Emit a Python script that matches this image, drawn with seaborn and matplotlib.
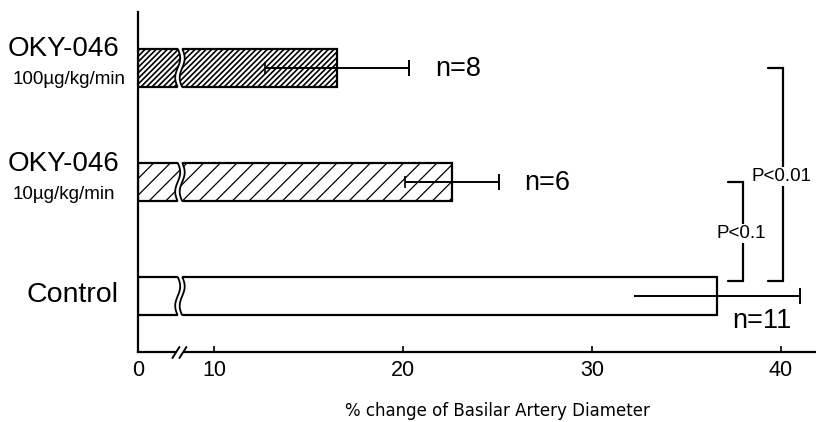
import numpy as np
import matplotlib
matplotlib.use("Agg")
import matplotlib.pyplot as plt
import seaborn as sns
import pandas as pd
from matplotlib.patches import Polygon
from matplotlib.lines import Line2D
from matplotlib.transforms import IdentityTransform, blended_transform_factory

# ---------------- data ----------------
groups = ["OKY-046 100", "OKY-046 10", "Control"]
main_labels = ["OKY-046", "OKY-046", "Control"]
dose_labels = ["100µg/kg/min", "10µg/kg/min", ""]
means = [16.5, 22.6, 36.6]
sds = [3.8, 2.5, 4.4]
n_labels = ["n=8", "n=6", "n=11"]
hatches = ["//////", "//", ""]
hatch_lw = [1.2, 0.9, 0.9]
left_caps = [True, True, False]
xticks = [0, 10, 20, 30, 40]
sig_labels = ["P<0.01", "P<0.1"]
sig_from = [0, 1]          # compared group index -> Control
xlabel = "% change of Basilar Artery Diameter"

# ---------------- style ----------------
sns.set_theme(style="white")
plt.rcParams['font.family'] = ['Liberation Sans', 'DejaVu Sans']
plt.rcParams['hatch.linewidth'] = 0.9
plt.rcParams['text.color'] = 'black'
plt.rcParams['axes.edgecolor'] = 'black'
plt.rcParams['xtick.color'] = 'black'
plt.rcParams['axes.labelcolor'] = 'black'

W, H = 816, 422
fig = plt.figure(figsize=(W / 100, H / 100), dpi=100)
ax = fig.add_axes([138 / W, 70 / H, 678 / W, 340 / H])

df = pd.DataFrame({"group": groups, "value": means})
BAR_H = 0.34
sns.barplot(data=df, x="value", y="group", orient="h", color="white",
            edgecolor="black", linewidth=1.6, width=BAR_H, errorbar=None,
            ax=ax)
for p, h, hl in zip(ax.patches, hatches, hatch_lw):
    p.set_facecolor("white")
    p.set_edgecolor("black")
    p.set_hatch(h)
    if hasattr(p, "set_hatch_linewidth"):
        p.set_hatch_linewidth(hl)

# broken axis: compress 0..10
K = 0.402
def fwd(v):
    v = np.asarray(v, float)
    return np.where(v < 10, 10 - (10 - v) * K, v)
def inv(p):
    p = np.asarray(p, float)
    return np.where(p < 10, 10 - (10 - p) / K, p)
ax.set_xscale('function', functions=(fwd, inv))
ax.set_xlim(0, 41.85)
ax.set_ylim(2.49, -0.49)

ax.set_xticks(xticks)
ax.set_xticklabels([str(t) for t in xticks])
ax.tick_params(axis='x', direction='in', length=4.5, width=1.2, pad=6,
               labelsize=15.5, bottom=True)
ax.set_yticks([])
ax.set_ylabel("")
ax.set_xlabel(xlabel, fontsize=12, family='DejaVu Sans')
ax.xaxis.set_label_coords(0.53, -0.174)
ax.xaxis.label.set_va('center')
for s in ['top', 'right']:
    ax.spines[s].set_visible(False)
for s in ['left', 'bottom']:
    ax.spines[s].set_linewidth(1.6)
    ax.spines[s].set_color('black')

# error bars
for i, (m, s) in enumerate(zip(means, sds)):
    ax.hlines(i, m - s, m + s, color='black', lw=1.4, zorder=5)
    ax.plot([m + s], [i], marker='|', ms=11, mew=1.4, color='black', zorder=5)
    if left_caps[i]:
        ax.plot([m - s], [i], marker='|', ms=8, mew=1.2, color='black', zorder=5)

# n labels
n_offsets = [(19, -1), (18, -1), (11, -18)]
n_anchor = [means[0] + sds[0], means[1] + sds[1], means[2]]
for i, (lab, off, xa) in enumerate(zip(n_labels, n_offsets, n_anchor)):
    ax.annotate(lab, (xa, i), xytext=off, textcoords='offset points',
                ha='left', va='center', fontsize=19.5)

# group labels
tr = blended_transform_factory(fig.transFigure, ax.transData)
for i, (ml, dl) in enumerate(zip(main_labels, dose_labels)):
    if dl:
        ax.text(8 / W, i - 0.10, ml, transform=tr, ha='left', va='baseline',
                fontsize=20)
        ax.text(13 / W, i + 0.145, dl, transform=tr, ha='left',
                va='baseline', fontsize=13.6)
    else:
        ax.text(27 / W, i + 0.05, ml, transform=tr, ha='left',
                va='baseline', fontsize=20.5)

# significance brackets
ctrl = len(groups) - 1
br_x = [40.09, 37.97]
for lab, g, bx in zip(sig_labels, sig_from, br_x):
    yb = ctrl - 0.13
    arm = bx - 0.8
    ax.plot([arm, bx, bx, arm], [g, g, yb, yb], color='black', lw=1.6,
            solid_joinstyle='miter', zorder=4)
    ax.text(bx - 0.05, (g + yb) / 2 + 0.02, lab, ha='center', va='center',
            fontsize=13.5, zorder=6,
            bbox=dict(boxstyle='square,pad=0.05', fc='white', ec='none'))

# ---- break decorations (computed in display space) ----
fig.canvas.draw()
BREAK_V = 5.52
ident = IdentityTransform()
xc = ax.transData.transform((BREAK_V, 0))[0]
gap, amp = 4.5, 2.5
for i in range(len(groups)):
    _, yt = ax.transData.transform((BREAK_V, i - BAR_H / 2))
    _, yb = ax.transData.transform((BREAK_V, i + BAR_H / 2))
    ytop, ybot = max(yt, yb), min(yt, yb)
    hgt = ytop - ybot
    s = np.linspace(-0.06, 1.06, 60)
    yy = ytop - s * hgt
    dx = amp * np.sin(2 * np.pi * np.clip(s, 0, 1))
    xl = xc - gap / 2 + dx
    xr = xc + gap / 2 + dx
    poly = np.column_stack([np.r_[xl, xr[::-1]], np.r_[yy, yy[::-1]]])
    ax.add_patch(Polygon(poly, closed=True, fc='white', ec='none',
                         transform=ident, zorder=3, clip_on=False))
    m = (s >= 0) & (s <= 1)
    for xs in (xl, xr):
        ax.add_line(Line2D(xs[m], yy[m], color='black', lw=1.3,
                           transform=ident, zorder=4, clip_on=False))

# axis break on bottom spine
ys = ax.transAxes.transform((0, 0))[1]
ax.add_patch(Polygon([[xc - 4, ys - 3], [xc + 4, ys - 3], [xc + 4, ys + 3],
                      [xc - 4, ys + 3]], closed=True, fc='white', ec='none',
                     transform=ident, zorder=6, clip_on=False))
for d in (-4, 3):
    ax.add_line(Line2D([xc + d - 3.5, xc + d + 3.5], [ys - 6, ys + 5],
                       color='black', lw=1.4, transform=ident, zorder=7,
                       clip_on=False))

fig.savefig("out.png", dpi=100)
